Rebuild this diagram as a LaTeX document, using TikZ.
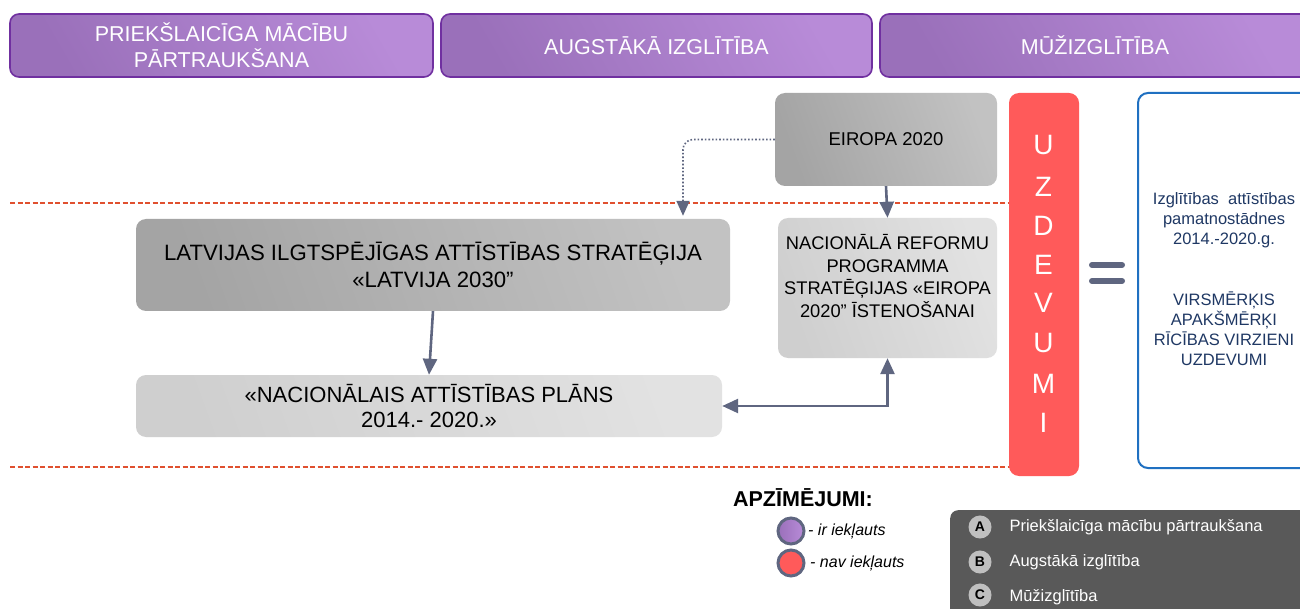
\documentclass[tikz,border=0pt]{standalone}
\usepackage{fontspec}
\setmainfont{Liberation Sans}
\usetikzlibrary{arrows.meta,shapes.geometric,calc}
\definecolor{purA}{HTML}{9A70BA}
\definecolor{purB}{HTML}{B88BD8}
\definecolor{purBorder}{HTML}{7030A0}
\definecolor{grayA}{HTML}{A4A4A4}
\definecolor{grayB}{HTML}{C2C2C2}
\definecolor{lgrayA}{HTML}{CFCFCF}
\definecolor{lgrayB}{HTML}{E2E2E2}
\definecolor{redbox}{HTML}{FF5A5A}
\definecolor{arrowc}{HTML}{5F6680}
\definecolor{bluebd}{HTML}{1F70C1}
\definecolor{navy}{HTML}{1F3864}
\definecolor{dashc}{HTML}{E0502F}
\definecolor{darkleg}{HTML}{595959}
\definecolor{circB}{HTML}{BFBFBF}
\newcommand{\sq}{\char34 }
\tikzset{
  header/.style={rounded corners=9pt, draw=purBorder, line width=1.6pt, left color=purA, right color=purB, shading angle=120, text=white, align=center, font=\fontsize{21.5}{26}\selectfont, inner sep=0pt},
  darkbox/.style={rounded corners=10pt, left color=grayA, right color=grayB, shading angle=110, align=center, inner sep=0pt, text=black},
  lightbox/.style={rounded corners=10pt, left color=lgrayA, right color=lgrayB, shading angle=110, align=center, inner sep=0pt, text=black},
  conn/.style={draw=arrowc, line width=2.6pt, -{Triangle[length=16pt,width=14pt]}},
  dotconn/.style={draw=arrowc, line width=1.6pt, dotted, rounded corners=10pt, -{Triangle[length=15pt,width=13pt]}},
  sep/.style={draw=dashc, line width=1.1pt, dash pattern=on 5pt off 2.5pt},
  uzletter/.style={text=white, font=\fontsize{28}{30}\selectfont},
  bluetext/.style={text=navy, font=\fontsize{16.5}{20}\selectfont, align=center},
  legcirc/.style={circle, minimum size=26pt, draw=arrowc, line width=3pt, inner sep=0pt},
  abccirc/.style={circle, minimum size=22pt, fill=circB, draw=lightgray, line width=1pt, inner sep=0pt, font=\bfseries\fontsize{14}{14}\selectfont},
  abctext/.style={text=white, anchor=west, font=\fontsize{16.5}{18}\selectfont}
}
\begin{document}
\begin{tikzpicture}[x=1pt,y=-1pt]
\useasboundingbox (0,0) rectangle (1300,609);
\clip (0,0) rectangle (1300,609);
\fill[white] (0,0) rectangle (1300,609);
% header boxes
\node[header, minimum width=423pt, minimum height=63pt] (h1) at (221.5,45.5) {PRIEKŠLAICĪGA MĀCĪBU\\PĀRTRAUKŠANA};
\node[header, minimum width=431pt, minimum height=63pt] (h2) at (656.5,45.5) {AUGSTĀKĀ IZGLĪTĪBA};
\node[header, minimum width=430pt, minimum height=63pt] (h3) at (1095,45.5) {MŪŽIZGLĪTĪBA};
% separators
\coordinate (s1a) at (10,203); \coordinate (s1b) at (1010,203);
\coordinate (s2a) at (10,467); \coordinate (s2b) at (1010,467);
\draw[sep] (s1a) -- (s1b);
\draw[sep] (s2a) -- (s2b);
% boxes
\node[darkbox, minimum width=222pt, minimum height=93pt, font=\fontsize{18.5}{20}\selectfont] (eu) at (886,139.5) {EIROPA 2020};
\node[darkbox, minimum width=594pt, minimum height=92pt, font=\fontsize{22.2}{27}\selectfont] (lat) at (433,265) {LATVIJAS ILGTSPĒJĪGAS ATTĪSTĪBAS STRATĒĢIJA\\«LATVIJA 2030\sq};
\node[lightbox, minimum width=586pt, minimum height=62pt, font=\fontsize{22}{25}\selectfont] (nap) at (429,406) {«NACIONĀLAIS ATTĪSTĪBAS PLĀNS\\2014.- 2020.»};
\node[lightbox, minimum width=219pt, minimum height=140pt] (nrp) at (887.5,288) {};
\node[align=center, font=\fontsize{18.3}{22.7}\selectfont, inner sep=0pt] (nrpt) at (887.5,276) {NACIONĀLĀ REFORMU\\PROGRAMMA\\STRATĒĢIJAS «EIROPA\\2020\sq\ ĪSTENOŠANAI};
% UZDEVUMI
\node[rounded corners=10pt, fill=redbox, minimum width=70pt, minimum height=383pt, inner sep=0pt] (uz) at (1044,284.5) {};
\foreach \l/\yy [count=\i] in {U/145,Z/187,D/226,E/265,V/303,U/343,M/384,I/423}
  \node[uzletter] (uzl\i) at (1043.5,\yy) {\l};
% equal sign
\coordinate (eq1a) at (1092,265); \coordinate (eq1b) at (1122,265);
\coordinate (eq2a) at (1092,281); \coordinate (eq2b) at (1122,281);
\draw[arrowc, line width=6pt, line cap=round] (eq1a) -- (eq1b);
\draw[arrowc, line width=6pt, line cap=round] (eq2a) -- (eq2b);
% blue box
\node[draw=bluebd, line width=2pt, rounded corners=10pt, fill=white, minimum width=180pt, minimum height=375pt] (blue) at (1228,280.5) {};
\node[bluetext] (bt1) at (1224,220) {Izglītības\ \ attīstības\\pamatnostādnes\\2014.-2020.g.};
\node[bluetext] (bt2) at (1224,329) {VIRSMĒRĶIS\\APAKŠMĒRĶI\\RĪCĪBAS VIRZIENI\\UZDEVUMI};
% connectors
\draw[dotconn, shorten >=3pt] (eu.west) -| ([xshift=250pt]lat.north);
\draw[conn] (eu.south) -- (nrp.north);
\draw[conn] (lat.south) -- (nap.north);
\draw[conn, {Triangle[length=16pt,width=14pt]}-{Triangle[length=16pt,width=14pt]}] (nap.east) -| (nrp.south);
% legend
\node[font=\bfseries\fontsize{21.5}{22}\selectfont] (apz) at (803,498) {APZĪMĒJUMI:};
\node[legcirc, left color=purA, right color=purB] (lc1) at (791,531) {};
\node[legcirc, fill=redbox] (lc2) at (791,563) {};
\node[anchor=west, font=\itshape\fontsize{16}{16}\selectfont, inner sep=0pt] (lt1) at (808,531) {- ir iekļauts};
\node[anchor=west, font=\itshape\fontsize{16}{16}\selectfont, inner sep=0pt] (lt2) at (810,563) {- nav iekļauts};
% dark legend
\node[fill=darkleg, rounded corners=8pt, minimum width=380pt, minimum height=120pt, anchor=north west, inner sep=0pt] (dleg) at (950,510) {};
\node[abccirc] (ca) at (980,527) {A};
\node[abccirc] (cb) at (980,562) {B};
\node[abccirc] (cc) at (980,595) {C};
\node[abctext] (ta) at (1006,527) {Priekšlaicīga mācību pārtraukšana};
\node[abctext] (tb) at (1006,562) {Augstākā izglītība};
\node[abctext] (tc) at (1006,597) {Mūžizglītība};
\end{tikzpicture}
\end{document}
